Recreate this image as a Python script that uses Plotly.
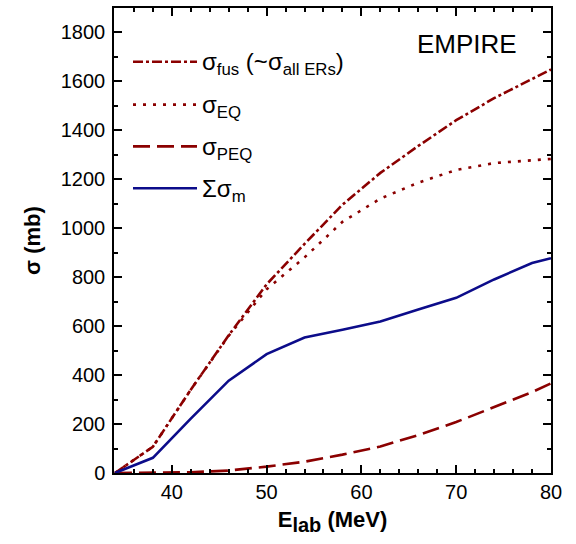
import plotly.graph_objects as go

energy = [34, 38, 42, 46, 50, 54, 58, 62, 66, 70, 74, 78, 80]
sigma_fus = [0, 107, 340, 562, 770, 935, 1095, 1225, 1335, 1440, 1530, 1610, 1647]
sigma_eq = [0, 107, 340, 560, 750, 880, 1025, 1120, 1185, 1237, 1265, 1278, 1282]
sigma_peq = [0, 0, 3, 10, 26, 46, 75, 108, 155, 208, 268, 330, 366]
sigma_m = [0, 62, 222, 377, 485, 553, 585, 618, 667, 715, 790, 857, 877]

red = "#8b0000"
blue = "#0c0c8a"
FONT = "Liberation Sans, Arial, sans-serif"

fig = go.Figure()
fig.add_trace(go.Scatter(x=energy, y=sigma_fus, mode="lines",
                         line=dict(color=red, width=2.6, dash="10px,3px,3px,3px")))
fig.add_trace(go.Scatter(x=energy, y=sigma_eq, mode="lines",
                         line=dict(color=red, width=2.6, dash="3px,7px")))
fig.add_trace(go.Scatter(x=energy, y=sigma_peq, mode="lines",
                         line=dict(color=red, width=2.6, dash="17px,7px")))
fig.add_trace(go.Scatter(x=energy, y=sigma_m, mode="lines",
                         line=dict(color=blue, width=2.6)))

axis_common = dict(
    showline=True, linecolor="black", linewidth=1.5, mirror="allticks",
    ticks="inside", ticklen=8, tickwidth=1.5, tickcolor="black",
    showgrid=False, zeroline=False,
    tickfont=dict(family=FONT, size=20, color="black"),
)

fig.update_xaxes(range=[33.9, 80], tick0=40, dtick=10,
                 minor=dict(ticks="inside", ticklen=4, tickwidth=1.5, tickcolor="black", dtick=2, tick0=34),
                 title=dict(text="<b>E<sub><span style='font-size:20px'>lab</span></sub> (MeV)</b>",
                            font=dict(family=FONT, size=22, color="black"), standoff=10),
                 **axis_common)
fig.update_yaxes(range=[0, 1898], tick0=0, dtick=200, ticklabelstandoff=3,
                 minor=dict(ticks="inside", ticklen=4, tickwidth=1.5, tickcolor="black", dtick=100),
                 title=dict(text="<b>σ (mb)</b>", font=dict(family=FONT, size=22, color="black"), standoff=14),
                 **axis_common)

# manual legend
legend_items = [
    ("σ<sub>fus</sub> (~σ<sub>all ERs</sub>)", red, "10px,3px,3px,3px"),
    ("σ<sub>EQ</sub>", red, "3px,7px"),
    ("σ<sub>PEQ</sub>", red, "17px,7px"),
    ("Σσ<sub>m</sub>", blue, "solid"),
]
ys = [60, 103, 145, 187]
x0p = (133 - 114) / 437
x1p = (197 - 114) / 437
xtp = (200 - 114) / 437
for (txt, col, dash), ypx in zip(legend_items, ys):
    yp = (473 - ypx) / 467
    fig.add_shape(type="line", xref="paper", yref="paper", x0=x0p, x1=x1p, y0=yp, y1=yp,
                  line=dict(color=col, width=2.6, dash=dash))
    fig.add_annotation(xref="paper", yref="paper", x=xtp, y=yp - 0.004, text=txt, showarrow=False,
                       xanchor="left", yanchor="middle",
                       font=dict(family=FONT, size=24, color="black"))

fig.add_annotation(xref="paper", yref="paper", x=(519 - 114) / 437, y=(473 - 42) / 467,
                   text="EMPIRE", showarrow=False, xanchor="right", yanchor="middle",
                   font=dict(family=FONT, size=26, color="black"))

fig.update_layout(
    width=576, height=544,
    margin=dict(l=114, r=25, t=6, b=71),
    paper_bgcolor="white", plot_bgcolor="white",
    showlegend=False,
)

fig.write_html("out.html")
